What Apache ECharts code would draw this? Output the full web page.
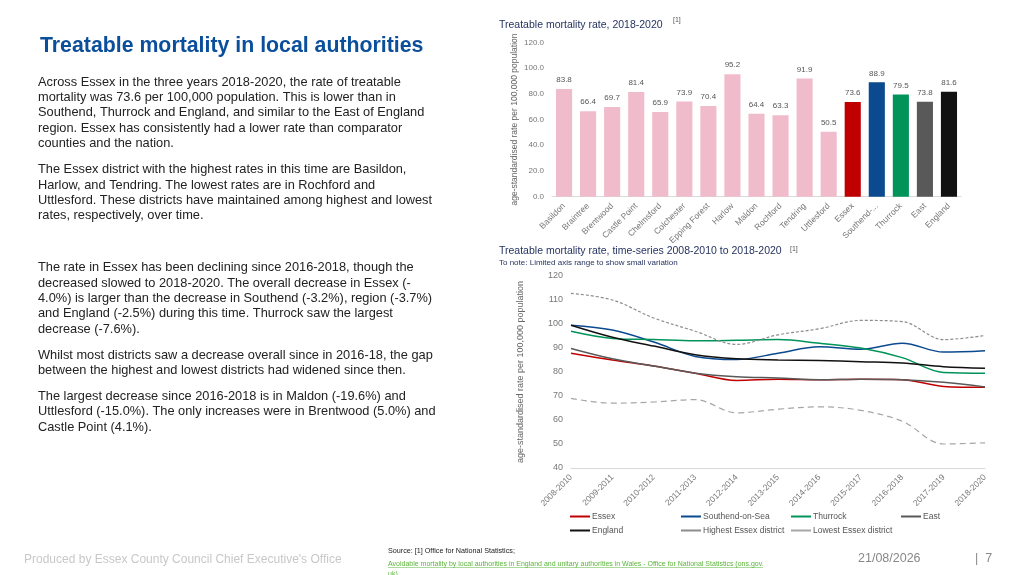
<!DOCTYPE html>
<html><head><meta charset="utf-8">
<script src="https://cdn.jsdelivr.net/npm/echarts@6/dist/echarts.min.js"></script>
<style>html,body{margin:0;padding:0;background:#fff}#c{width:1024px;height:575px}</style>
</head><body><div id="c"></div>
<script>
const barCats = ['Basildon','Braintree','Brentwood','Castle Point','Chelmsford','Colchester','Epping Forest','Harlow','Maldon','Rochford','Tendring','Uttlesford','Essex','Southend-...','Thurrock','East','England'];
const barVals = [83.8,66.4,69.7,81.4,65.9,73.9,70.4,95.2,64.4,63.3,91.9,50.5,73.6,88.9,79.5,73.8,81.6];
const barColors = ['#f0bccb','#f0bccb','#f0bccb','#f0bccb','#f0bccb','#f0bccb','#f0bccb','#f0bccb','#f0bccb','#f0bccb','#f0bccb','#f0bccb','#c00000','#0b4a8f','#00935a','#595959','#111111'];
const years = ['2008-2010','2009-2011','2010-2012','2011-2013','2012-2014','2013-2015','2014-2016','2015-2017','2016-2018','2017-2019','2018-2020'];
const essex = [87.8,85,82.5,79.5,76.5,77,76.8,77,76.8,74,73.6];
const southend = [99.5,97.5,92.5,86.5,85.2,87.8,90.5,89.5,92,88.3,88.9];
const thurrock = [97,94,93.5,93,93.2,93.5,92,90,86,79.8,79.5];
const east = [89.8,85.5,82.5,79.5,78,77.5,76.8,77,76.8,75.7,73.8];
const england = [99.5,94.5,90.8,87.2,85.5,85,84.8,84.3,83.8,82.2,81.6];
const highest = [112.8,110,102.5,97,91.5,95.5,98,101.5,101,93.5,95.2];
const lowest = [69,67,67.5,68.5,63,64.5,65.5,64,59.5,50,50.5];
const paras = [
 ['Across Essex in the three years 2018-2020, the rate of treatable','mortality was 73.6 per 100,000 population. This is lower than in','Southend, Thurrock and England, and similar to the East of England','region. Essex has consistently had a lower rate than comparator','counties and the nation.'],
 ['The Essex district with the highest rates in this time are Basildon,','Harlow, and Tendring. The lowest rates are in Rochford and','Uttlesford. These districts have maintained among highest and lowest','rates, respectively, over time.'],
 ['The rate in Essex has been declining since 2016-2018, though the','decreased slowed to 2018-2020. The overall decrease in Essex (-','4.0%) is larger than the decrease in Southend (-3.2%), region (-3.7%)','and England (-2.5%) during this time. Thurrock saw the largest','decrease (-7.6%).'],
 ['Whilst most districts saw a decrease overall since in 2016-18, the gap','between the highest and lowest districts had widened since then.'],
 ['The largest decrease since 2016-2018 is in Maldon (-19.6%) and','Uttlesford (-15.0%). The only increases were in Brentwood (5.0%) and','Castle Point (4.1%).']
];
const paraTop = [82,169.7,267.7,355.3,396.3];
const F = 'Liberation Sans, Arial, sans-serif';
const g = [];
g.push({type:'text',left:40,top:36,style:{text:'Treatable mortality in local authorities',font:'bold 21.3px '+F,fill:'#0b4f9c'}});
paras.forEach((p,i)=>p.forEach((l,j)=>g.push({type:'text',left:38,top:paraTop[i]+j*15.35-6.5,style:{text:l,font:'12.8px '+F,fill:'#222'}})));
g.push({type:'text',left:499,top:20,style:{text:'Treatable mortality rate, 2018-2020',font:'10.5px '+F,fill:'#1f2d5c'}});
g.push({type:'text',left:673,top:17,style:{text:'[1]',font:'7px '+F,fill:'#555'}});
g.push({type:'text',left:499,top:246,style:{text:'Treatable mortality rate, time-series 2008-2010 to 2018-2020',font:'10.5px '+F,fill:'#1f2d5c'}});
g.push({type:'text',left:790,top:246,style:{text:'[1]',font:'7px '+F,fill:'#555'}});
g.push({type:'text',left:499,top:259,style:{text:'To note: Limited axis range to show small variation',font:'8px '+F,fill:'#1f2d5c'}});
g.push({type:'text',left:24,top:554,style:{text:"Produced by Essex County Council Chief Executive's Office",font:'12px '+F,fill:'#c8c8c8'}});
g.push({type:'text',left:388,top:548,style:{text:'Source: [1] Office for National Statistics;',font:'7.2px '+F,fill:'#222'}});
g.push({type:'text',left:388,top:559,style:{text:'Avoidable mortality by local authorities in England and unitary authorities in Wales - Office for National Statistics (ons.gov.\nuk)',font:'7px '+F,fill:'#5bb53a',lineHeight:10}});
g.push({type:'rect',shape:{x:388,y:567.5,width:375,height:0.6},style:{fill:'#5bb53a'}});
g.push({type:'text',left:858,top:552,style:{text:'21/08/2026',font:'12.5px '+F,fill:'#888'}});
g.push({type:'text',left:975,top:552,style:{text:'|  7',font:'12.5px '+F,fill:'#888'}});
const axLbl = {color:'#777',fontSize:8,fontFamily:F};
const mk = (name,data,color,type,w)=>({name,type:'line',data,xAxisIndex:1,yAxisIndex:1,smooth:0.35,symbol:'none',lineStyle:{color,width:w||1.5,type:type||'solid'},itemStyle:{color}});
const legPos = [['Essex',570,512],['Southend-on-Sea',681,512],['Thurrock',791,512],['East',901,512],['England',570,526],['Highest Essex district',681,526],['Lowest Essex district',791,526]];
const legends = legPos.map(([n,x,y])=>({left:x,top:y,itemWidth:20,itemHeight:2,itemGap:2,icon:'rect',padding:0,textStyle:{color:'#555',fontSize:8.5,padding:[0,0,0,-3]},data:[n]}));
const chart = echarts.init(document.getElementById('c'));
chart.setOption({
 animation:false,
 textStyle:{fontFamily:F},
 graphic:g,
 grid:[{left:552,right:63,top:42.3,height:154.4},{left:571,right:39,top:276,height:192}],
 xAxis:[
  {type:'category',gridIndex:0,data:barCats,axisTick:{show:false},axisLine:{lineStyle:{color:'#d9d9d9'}},axisLabel:{...axLbl,rotate:45,interval:0,fontSize:8.5}},
  {type:'category',gridIndex:1,data:years,boundaryGap:false,axisTick:{show:false},axisLine:{lineStyle:{color:'#d9d9d9'}},axisLabel:{...axLbl,rotate:45,interval:0,fontSize:8.5}}
 ],
 yAxis:[
  {type:'value',gridIndex:0,min:0,max:120,interval:20,splitLine:{show:false},axisLabel:{...axLbl,formatter:v=>v.toFixed(1)},name:'age-standardised rate per 100,000 population',nameLocation:'middle',nameGap:33,nameTextStyle:{color:'#666',fontSize:8.5}},
  {type:'value',gridIndex:1,min:40,max:120,interval:10,splitLine:{show:false},axisLabel:{...axLbl,fontSize:9},name:'age-standardised rate per 100,000 population',nameLocation:'middle',nameGap:46,nameTextStyle:{color:'#666',fontSize:9}}
 ],
 legend:legends,
 series:[
  {type:'bar',data:barVals.map((v,i)=>({value:v,itemStyle:{color:barColors[i]}})),barCategoryGap:'33%',label:{show:true,position:'top',color:'#555',fontSize:8,formatter:p=>p.value.toFixed(1)}},
  mk('Essex',essex,'#c00000'),
  mk('Southend-on-Sea',southend,'#0b4a8f'),
  mk('Thurrock',thurrock,'#00935a'),
  mk('East',east,'#595959'),
  mk('England',england,'#111111'),
  mk('Highest Essex district',highest,'#8c8c8c',[3,2],1.2),
  mk('Lowest Essex district',lowest,'#a6a6a6',[6,4],1.2)
 ]
});
</script></body></html>
